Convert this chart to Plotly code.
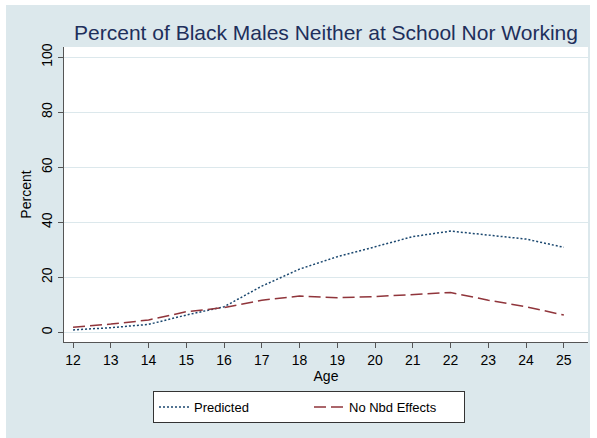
import plotly.graph_objects as go

ages = [12, 13, 14, 15, 16, 17, 18, 19, 20, 21, 22, 23, 24, 25]
predicted = [0.9, 1.7, 2.9, 6.3, 9.3, 16.8, 23.0, 27.5, 31.1, 34.8, 36.8, 35.4, 33.9, 30.9]
no_nbd = [1.9, 3.0, 4.5, 7.5, 9.0, 11.7, 13.2, 12.6, 13.0, 13.7, 14.5, 11.7, 9.3, 6.3]
y_ticks = [0, 20, 40, 60, 80, 100]

W, H = 597, 438
ML, MR, MT, MB = 64, 9, 47, 96
PW = W - ML - MR
PH = H - MT - MB

FONT = "Arial, Liberation Sans, sans-serif"
BG = "#DCE8EC"
GRID = "#DCE8EC"


def px_x(p):
    return (p - ML) / PW


def px_y(p):
    return (H - MB - p) / PH


fig = go.Figure()
fig.add_trace(go.Scatter(
    x=ages, y=predicted, mode="lines", name="Predicted",
    line=dict(color="#1A476F", width=1.5, dash="2px,2px"),
))
fig.add_trace(go.Scatter(
    x=ages, y=no_nbd, mode="lines", name="No Nbd Effects",
    line=dict(color="#90353B", width=1.5, dash="12px,5px"),
))

# white border strips around the light graph region
for (x0, x1, y0, y1) in [(0, 6, 0, H), (590, W, 0, H), (0, W, 0, 5)]:
    fig.add_shape(type="rect", xref="paper", yref="paper",
                  x0=px_x(x0), x1=px_x(x1), y0=px_y(y1), y1=px_y(y0),
                  fillcolor="white", line_width=0, layer="above")

fig.update_layout(
    width=W, height=H,
    margin=dict(l=ML, r=MR, t=MT, b=MB),
    paper_bgcolor=BG, plot_bgcolor="white",
    font=dict(family=FONT, color="black", size=14),
    title=dict(text="Percent of Black Males Neither at School Nor Working",
               x=(ML + PW / 2) / W, xanchor="center",
               y=1 - 33 / H, yanchor="middle", yref="container",
               font=dict(size=21, color="#1E2F5B", family=FONT)),
    showlegend=True,
    legend=dict(orientation="h", x=px_x(309), xanchor="center",
                y=px_y(391), yanchor="top",
                bgcolor="white", bordercolor="#333333", borderwidth=1,
                font=dict(size=13, family=FONT), entrywidth=110),
)
fig.update_xaxes(
    range=[11.76, 25.64], tickvals=ages, ticktext=[str(a) for a in ages],
    showline=True, linecolor="#555555", linewidth=1,
    ticks="outside", ticklen=5, tickcolor="#555555",
    showgrid=False, zeroline=False,
    tickfont=dict(size=14),
    title=dict(text="Age", font=dict(size=14), standoff=2),
)
fig.update_yaxes(
    range=[-3.5, 103.7], tickvals=y_ticks,
    showline=True, linecolor="#555555", linewidth=1,
    ticks="outside", ticklen=5, tickcolor="#555555",
    showgrid=True, gridcolor=GRID, gridwidth=1, zeroline=False,
    tickangle=-90, tickfont=dict(size=14),
    title=dict(text="Percent", font=dict(size=14), standoff=4),
)

fig.write_html("out.html")
